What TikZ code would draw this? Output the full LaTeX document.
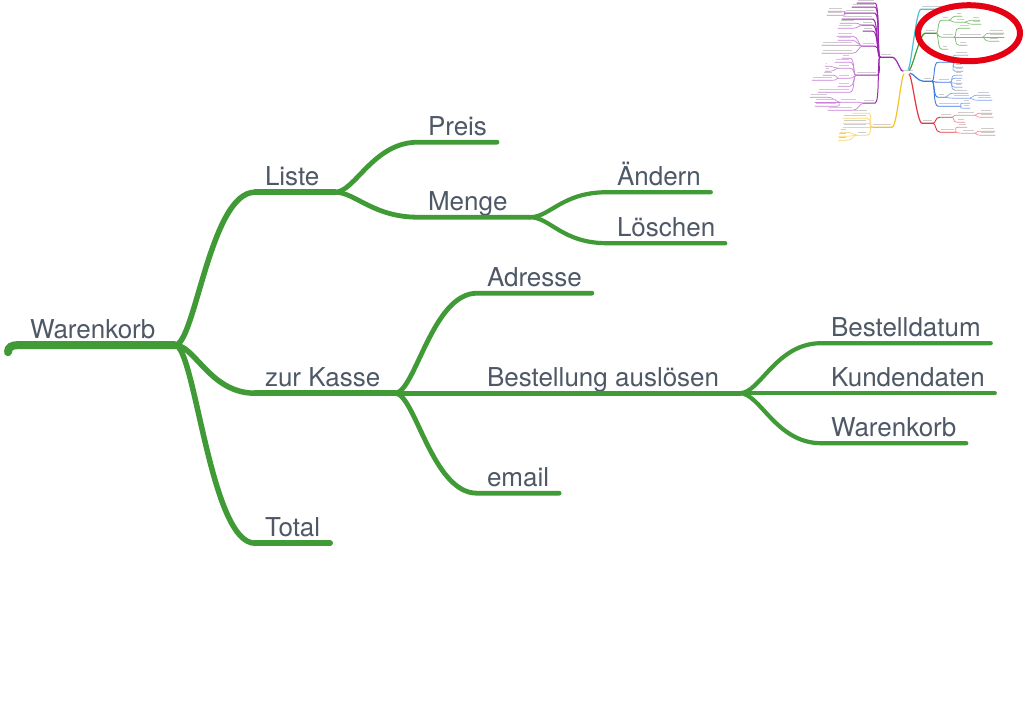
\documentclass[tikz,border=0pt]{standalone}
\usepackage{fontspec}
\setmainfont{TeX Gyre Heros}
\usetikzlibrary{calc}
\definecolor{mmgreen}{RGB}{64,155,55}
\definecolor{mmgreenl}{RGB}{120,190,110}
\definecolor{txtgray}{RGB}{78,88,102}
\definecolor{mmpurple}{RGB}{156,39,176}
\definecolor{mmpurplel}{RGB}{200,130,215}
\definecolor{mmyellow}{RGB}{245,195,40}
\definecolor{mmyellowl}{RGB}{250,215,110}
\definecolor{mmcyan}{RGB}{70,195,210}
\definecolor{mmblue}{RGB}{60,120,230}
\definecolor{mmbluel}{RGB}{130,165,240}
\definecolor{mmred}{RGB}{225,55,65}
\definecolor{mmredl}{RGB}{240,140,150}
\definecolor{marker}{RGB}{230,0,20}
\tikzset{
  lbl/.style = {font=\fontsize{26}{30}\selectfont, text=txtgray, anchor=south west,
    inner xsep=10pt, inner ysep=7pt, text depth=0pt, outer sep=0pt},
  trunk/.style = {draw=mmgreen, line cap=round, line width=8pt},
  bough/.style = {draw=mmgreen, line cap=round, line width=5.5pt},
  limb/.style = {draw=mmgreen, line cap=round, line width=4.8pt},
  twig/.style = {draw=mmgreen, line cap=round, line width=4.2pt},
  sway/.style = {to path={.. controls +(20,0) and +(-45,0) .. (\tikztotarget) \tikztonodes}},
  mmbar/.style = {draw=gray!40, line width=1.4pt}
}

\begin{document}
\begin{tikzpicture}[x=1pt,y=-1pt]
  \fill[white] (0,0) rectangle (1028,704);
  % hubs
  \coordinate (roothub) at (175,345);
  \coordinate (listehub) at (335,192);
  \coordinate (mengehub) at (530,217);
  \coordinate (kassehub) at (395,393);
  \coordinate (bestellhub) at (740,393);
  % labels
  \node[lbl,inner xsep=22pt] (root) at (8,345) {Warenkorb};
  \node[lbl] (liste) at (255,192) {Liste};
  \node[lbl] (kasse) at (255,393) {zur Kasse};
  \node[lbl] (total) at (255,543) {Total};
  \node[lbl] (preis) at (418,142) {Preis};
  \node[lbl] (menge) at (418,217) {Menge};
  \node[lbl] (aendern) at (607,192) {Ändern};
  \node[lbl] (loeschen) at (607,243) {Löschen};
  \node[lbl] (adresse) at (477,293) {Adresse};
  \node[lbl] (bestellung) at (477,393) {Bestellung auslösen};
  \node[lbl] (email) at (477,493) {email};
  \node[lbl] (datum) at (821,343) {Bestelldatum};
  \node[lbl] (kunden) at (821,393) {Kundendaten};
  \node[lbl] (korb) at (821,443) {Warenkorb};
  % root
  \draw[trunk] ($(root.south west)+(0,7)$) .. controls +(0,-5) and +(-5,0) .. ($(root.south west)+(9,0)$) -- (roothub);
  % first level
  \foreach \n in {liste,kasse,total}
    \draw[bough] (roothub) to[sway] (\n.south west);
  \draw[bough] (liste.south west) -- (listehub);
  \draw[bough] (kasse.south west) -- (kassehub);
  \draw[bough] (total.south west) -- (total.south east);
  % Liste
  \draw[limb] (listehub) to[sway] (preis.south west) -- (preis.south east);
  \draw[limb] (listehub) to[sway] (menge.south west) -- (mengehub);
  \foreach \n in {aendern,loeschen}
    \draw[twig] (mengehub) to[sway] (\n.south west) -- (\n.south east);
  % zur Kasse
  \foreach \n in {adresse,email}
    \draw[limb] (kassehub) to[sway] (\n.south west) -- (\n.south east);
  \draw[limb] (kassehub) -- (bestellung.south west) -- (bestellhub);
  \foreach \n in {datum,kunden,korb}
    \draw[twig] (bestellhub) to[sway] (\n.south west) -- (\n.south east);

  % overview map
  \draw[mmbar] (900,70) -- (913,70);
  % right side branches
  \foreach \c/\lw/\hx/\hy/\sx/\ex/\y in {
    mmcyan/1.2/908/69/921/953/9,
    mmgreen/1.2/909/70/925/936/33,
    mmgreenl/0.8/936/33/942/949/20, mmgreenl/0.8/936/33/942/954/37,
    mmgreenl/0.8/936/33/942/948/49, mmgreenl/0.7/949/20/956/962/16,
    mmgreenl/0.7/949/20/956/965/22, mmgreenl/0.6/965/22/972/980/20,
    mmgreenl/0.6/965/22/972/981/24, mmgreenl/0.7/954/37/959/970/28,
    mmgreenl/0.7/954/37/959/982/37, mmgreenl/0.7/954/37/959/967/45,
    mmgreenl/0.6/982/37/989/1004/33, mmgreenl/0.6/982/37/989/1004/37,
    mmgreenl/0.6/982/37/989/999/41,
    mmblue/1.2/910/73/923/932/81,
    mmblue/0.9/932/81/938/953/62, mmblue/0.9/932/81/938/950/82,
    mmblue/0.9/932/81/938/945/97, mmblue/0.9/932/81/938/960/106,
    mmbluel/0.7/953/62/955/968/55, mmbluel/0.7/953/62/955/968/58,
    mmbluel/0.7/953/62/955/963/67, mmbluel/0.7/953/62/955/963/71,
    mmbluel/0.7/950/82/955/962/75, mmbluel/0.7/950/82/955/962/78,
    mmbluel/0.7/950/82/955/962/83, mmbluel/0.7/950/82/955/962/87,
    mmbluel/0.7/950/82/955/962/90,
    mmbluel/0.7/945/97/953/968/93, mmbluel/0.7/945/97/953/970/98,
    mmbluel/0.6/970/98/977/990/95, mmbluel/0.6/970/98/977/992/100,
    mmbluel/0.7/960/106/963/970/103, mmbluel/0.7/960/106/963/970/108,
    mmred/1.2/909/74/922/933/123,
    mmred/0.9/933/123/940/952/117, mmred/0.9/933/123/940/955/132,
    mmredl/0.7/952/117/957/975/115, mmredl/0.7/952/117/957/965/122,
    mmredl/0.6/975/115/980/992/113, mmredl/0.6/975/115/980/993/117,
    mmredl/0.7/955/132/958/967/127, mmredl/0.7/955/132/962/975/133,
    mmredl/0.6/975/133/980/995/131, mmredl/0.6/975/133/980/995/135} {
    \draw[draw=\c, line width=\lw*1pt, line cap=round] (\hx,\hy) .. controls +(3,0) and +(-5,0) .. (\sx,\y) -- (\ex,\y);
    \draw[mmbar] ({\sx+1},{\y-2.5}) -- ({\ex-1},{\y-2.5});
  }
  % left side branches
  \foreach \c/\lw/\hx/\hy/\sx/\ex/\y in {
    mmpurple/1.2/903/71/892/880/57,
    mmpurple/1.0/880/57/875/857/3, mmpurple/1.0/880/57/875/852/7,
    mmpurple/1.0/880/57/875/845/13, mmpurple/1.0/880/57/873/842/19,
    mmpurple/1.0/880/57/873/862/25, mmpurple/1.0/880/57/873/863/31,
    mmpurple/1.0/880/57/875/862/46, mmpurple/1.0/880/57/877/856/75,
    mmpurple/1.0/880/57/875/863/103,
    mmpurplel/0.7/845/13/843/828/11, mmpurplel/0.7/845/13/843/827/15,
    mmpurplel/0.7/862/25/855/840/23, mmpurplel/0.7/862/25/853/838/28,
    mmpurplel/0.7/862/46/853/837/36, mmpurplel/0.7/862/46/852/838/40,
    mmpurplel/0.7/862/46/853/822/45, mmpurplel/0.7/862/46/853/822/53,
    mmpurplel/0.7/856/75/850/842/58, mmpurplel/0.7/856/75/850/835/62,
    mmpurplel/0.7/856/75/850/838/68, mmpurplel/0.7/856/75/850/838/78,
    mmpurplel/0.7/856/75/850/838/86, mmpurplel/0.7/856/75/850/818/92,
    mmpurplel/0.6/838/68/828/825/66, mmpurplel/0.6/838/68/830/825/71,
    mmpurplel/0.6/838/78/833/823/75, mmpurplel/0.6/838/78/833/812/80,
    mmpurplel/0.7/863/103/857/840/102, mmpurplel/0.7/863/103/853/828/110,
    mmpurplel/0.6/840/102/828/810/97, mmpurplel/0.6/840/102/837/815/102,
    mmpurplel/0.6/840/102/837/815/106,
    mmyellow/1.2/904/74/892/872/127,
    mmyellowl/0.8/872/127/868/853/113, mmyellowl/0.8/872/127/867/843/118,
    mmyellowl/0.8/872/127/867/843/123, mmyellowl/0.8/872/127/867/843/127,
    mmyellowl/0.8/872/127/867/857/135,
    mmyellowl/0.6/857/135/847/840/132, mmyellowl/0.6/857/135/847/838/136,
    mmyellowl/0.6/857/135/847/838/140} {
    \draw[draw=\c, line width=\lw*1pt, line cap=round] (\hx,\hy) .. controls +(-3,0) and +(5,0) .. (\sx,\y) -- (\ex,\y);
    \draw[mmbar] ({\ex+1},{\y-2.5}) -- ({\sx-1},{\y-2.5});
  }
  % marker
  \draw[marker, line width=6pt] (969,33) ellipse [x radius=51, y radius=28];
\end{tikzpicture}
\end{document}
